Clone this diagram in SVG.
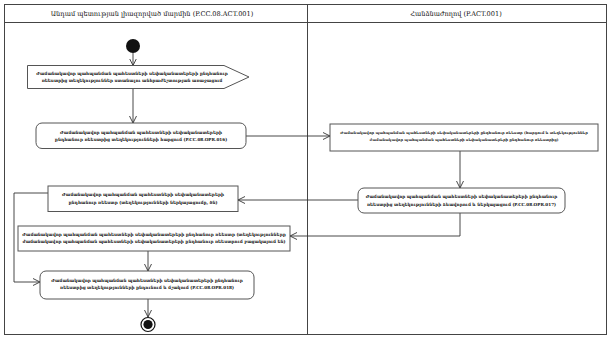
<svg xmlns="http://www.w3.org/2000/svg" width="612" height="339" viewBox="0 0 612 339">
<defs>
<marker id="ah" markerWidth="8" markerHeight="8" refX="7" refY="4" orient="auto" markerUnits="userSpaceOnUse">
<path d="M0,0.5 L7,4 L0,7.5" fill="none" stroke="#333" stroke-width="0.9"/>
</marker>
<style>
.lane{fill:#fff;stroke:#444;stroke-width:1}
.hd{font-family:"DejaVu Serif","Liberation Serif",serif;font-size:6.6px;fill:#111;text-anchor:middle}
.bx{fill:#fff;stroke:#555;stroke-width:1}
.t{font-family:"DejaVu Serif","Liberation Serif",serif;font-size:4.2px;fill:#111;text-anchor:middle;font-weight:bold}
.s{font-size:3.6px}
.c{fill:none;stroke:#333;stroke-width:0.9;marker-end:url(#ah)}
</style>
</defs>
<g id="lanes">
<rect class="lane" x="4.5" y="4.5" width="602" height="330"/>
<line x1="4.5" y1="22.5" x2="606.5" y2="22.5" stroke="#444" stroke-width="1"/>
<line x1="307.5" y1="4.5" x2="307.5" y2="334.5" stroke="#444" stroke-width="1"/>
<text class="hd" x="152" y="16">Անդամ պետության լիազորված մարմին (P.CC.08.ACT.001)</text>
<text class="hd" x="456" y="16">Հանձնաժողով (P.ACT.001)</text>
</g>
<g id="connectors">
<line class="c" x1="133" y1="53" x2="133" y2="65.5"/>
<line class="c" x1="133" y1="88" x2="133" y2="123"/>
<line class="c" x1="246" y1="136" x2="330" y2="136"/>
<line class="c" x1="460" y1="151" x2="460" y2="188"/>
<polyline class="c" points="358,200 238,200"/>
<polyline class="c" points="460,213 460,236 290,236"/>
<polyline class="c" points="48,193 14,193 14,282 40,282"/>
<line class="c" x1="148" y1="251" x2="148" y2="271"/>
<line class="c" x1="148" y1="299" x2="148" y2="317"/>
</g>
<g id="start"><circle cx="133" cy="46" r="7" fill="#111"/></g>
<g id="n1">
<path class="bx" d="M27.5,65.5 H224 L249,77 L224,88.5 H27.5 Z"/>
<text class="t" x="132" y="75">Ժամանակավոր պահպանման պահեստների սեփականատերերի ընդհանուր</text>
<text class="t" x="132" y="82">ռեեստրից տեղեկություններ ստանալու անհրաժեշտության առաջացում</text>
</g>
<g id="n2">
<rect class="bx" x="36" y="123" width="210" height="25.5" rx="6"/>
<text class="t" x="141" y="133.5">Ժամանակավոր պահպանման պահեստների սեփականատերերի</text>
<text class="t" x="141" y="141">ընդհանուր ռեեստրից տեղեկությունների հարցում (P.CC.08.OPR.016)</text>
</g>
<g id="n3">
<rect class="bx" x="330" y="124" width="268" height="27"/>
<text class="t s" x="464" y="134">Ժամանակավոր պահպանման պահեստների սեփականատերերի ընդհանուր ռեեստր (հարցում և տեղեկություններ</text>
<text class="t s" x="464" y="141">ժամանակավոր պահպանման պահեստների սեփականատերերի ընդհանուր ռեեստրից)</text>
</g>
<g id="n4">
<rect class="bx" x="358" y="188" width="207" height="25" rx="6"/>
<text class="t" x="461.5" y="198">Ժամանակավոր պահպանման պահեստների սեփականատերերի ընդհանուր</text>
<text class="t" x="461.5" y="205.5">ռեեստրից տեղեկությունների ձևավորում և ներկայացում (P.CC.08.OPR.017)</text>
</g>
<g id="n5">
<rect class="bx" x="48" y="186" width="190" height="25.5"/>
<text class="t" x="143" y="196">Ժամանակավոր պահպանման պահեստների սեփականատերերի</text>
<text class="t" x="143" y="203.5">ընդհանուր ռեեստր (տեղեկությունների ներկայացումը, ծն)</text>
</g>
<g id="n6">
<rect class="bx" x="18" y="226" width="272" height="25"/>
<text class="t" x="154" y="235.5">Ժամանակավոր պահպանման պահեստների սեփականատերերի ընդհանուր ռեեստր (տեղեկությունները</text>
<text class="t" x="154" y="243">ժամանակավոր պահպանման պահեստների սեփականատերերի ընդհանուր ռեեստրում բացակայում են)</text>
</g>
<g id="n7">
<rect class="bx" x="40" y="271" width="214" height="28" rx="6"/>
<text class="t" x="147" y="281.5">Ժամանակավոր պահպանման պահեստների սեփականատերերի ընդհանուր</text>
<text class="t" x="147" y="289">ռեեստրից տեղեկությունների ընդունում և մշակում (P.CC.08.OPR.018)</text>
</g>
<g id="end">
<circle cx="148" cy="324.5" r="7" fill="#fff" stroke="#111" stroke-width="1.2"/>
<circle cx="148" cy="324.5" r="4.6" fill="#111"/>
</g>
</svg>
